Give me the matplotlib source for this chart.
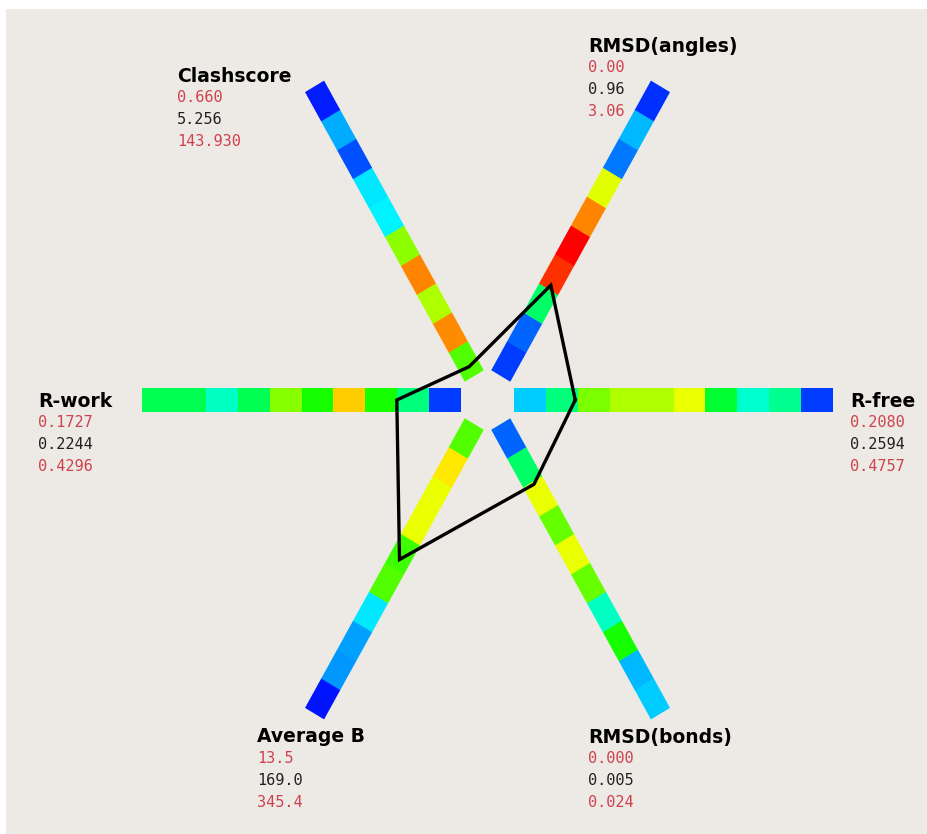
# -*- coding: utf-8 -*-
# Polygon (radar) chart of model statistics, with colored histogram bars on each axis
import numpy as np
import matplotlib.pyplot as plt
from matplotlib.patches import Polygon
from matplotlib.colors import LinearSegmentedColormap

# axes, counter-clockwise from the right
labels = ['R-free', 'RMSD(angles)', 'Clashscore', 'R-work', 'Average B', 'RMSD(bonds)']
angles = [0, 60, 120, 180, 240, 300]
lows = [0.2080, 0.00, 0.660, 0.1727, 13.5, 0.000]
values = [0.2594, 0.96, 5.256, 0.2244, 169.0, 0.005]
highs = [0.4757, 3.06, 143.930, 0.4296, 345.4, 0.024]
decimals = [4, 2, 3, 4, 1, 3]

# histogram bin levels (0 = blue ... 1 = red), inner to outer
rfree_bins = [0.20, 0.38, 0.62, 0.67, 0.67, 0.73, 0.45, 0.30, 0.36, 0.06]
angles_bins = [0.06, 0.10, 0.40, 0.95, 1.00, 0.87, 0.72, 0.12, 0.18, 0.05]
clash_bins = [0.58, 0.86, 0.67, 0.87, 0.64, 0.24, 0.23, 0.08, 0.17, 0.03]
rwork_bins = [0.06, 0.38, 0.52, 0.80, 0.52, 0.63, 0.42, 0.31, 0.42, 0.42]
avgb_bins = [0.58, 0.77, 0.73, 0.73, 0.56, 0.58, 0.23, 0.16, 0.15, 0.02]
bonds_bins = [0.10, 0.40, 0.73, 0.60, 0.73, 0.60, 0.31, 0.52, 0.18, 0.20]
bins = [rfree_bins, angles_bins, clash_bins, rwork_bins, avgb_bins, bonds_bins]

# layout (pixels from top-left of the image)
W, H = 927, 834
cx, cy = 487.5, 400.0
sy = 1.047          # picture is a little stretched vertically
r_in, r_out = 26.5, 345.5
half_w = 11
label_xy = [(850, 401), (588, 46), (177, 76), (38, 401), (257, 737), (588, 737)]

cmap = LinearSegmentedColormap.from_list(
    'hue', ['#0000ff', '#00ffff', '#00ff00', '#ffff00', '#ff0000'])
red_txt = '#d0414e'
blk_txt = '#222222'


def px(x, y):
    # pixel position -> data coordinates
    return x - cx, (cy - y) / sy


fig = plt.figure(figsize=(W / 100, H / 100), dpi=100)
fig.patch.set_facecolor('white')
left, top = 6, 9
ax = fig.add_axes([left / W, 0, 1 - left / W, 1 - top / H])
ax.set_facecolor('#edeae5')
ax.set_xlim(left - cx, W - cx)
ax.set_ylim((cy - H) / sy, (cy - top) / sy)
ax.set_xticks([])
ax.set_yticks([])
for s in ax.spines.values():
    s.set_visible(False)

# colored bars
for ang, b in zip(angles, bins):
    t = np.deg2rad(ang)
    u = np.array([np.cos(t), np.sin(t)])
    n = np.array([-np.sin(t), np.cos(t)])
    step = (r_out - r_in) / len(b)
    for i, lev in enumerate(b):
        r0 = r_in + i * step
        r1 = r0 + step + 0.4
        pts = [r0 * u + half_w * n, r1 * u + half_w * n,
               r1 * u - half_w * n, r0 * u - half_w * n]
        ax.add_patch(Polygon(pts, closed=True, facecolor=cmap(lev),
                             edgecolor='none'))

# polygon of the model values
xs, ys = [], []
for ang, lo, v, hi in zip(angles, lows, values, highs):
    frac = (v - lo) / (hi - lo)
    r = r_in + frac * (r_out - r_in)
    t = np.deg2rad(ang)
    xs.append(r * np.cos(t))
    ys.append(r * np.sin(t))
xs.append(xs[0])
ys.append(ys[0])
ax.plot(xs, ys, color='black', lw=2.4, solid_joinstyle='miter', zorder=5)

# labels
for lab, (lx, ly), lo, v, hi, d in zip(labels, label_xy, lows, values, highs, decimals):
    ax.text(*px(lx, ly), lab, fontsize=13.5, fontweight='bold',
            color='black', ha='left', va='center')
    for k, (num, col) in enumerate([(lo, red_txt), (v, blk_txt), (hi, red_txt)]):
        ax.text(*px(lx, ly + 21.5 + 22 * k), f'{num:.{d}f}', fontsize=11,
                family='DejaVu Sans Mono', color=col, ha='left', va='center')

fig.savefig('out.png', dpi=100)
